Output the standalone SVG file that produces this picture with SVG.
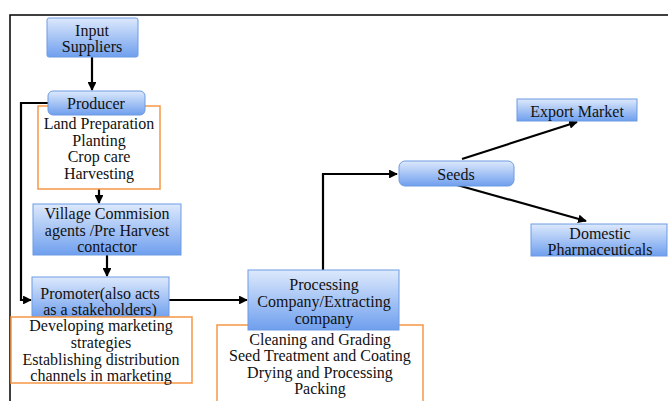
<svg xmlns="http://www.w3.org/2000/svg" width="668" height="401" viewBox="0 0 668 401">
<style>
.t{font-family:"Liberation Serif","Times New Roman",serif;font-size:16px;fill:#111;text-anchor:middle}
.b{fill:url(#g);stroke:#6d9be3;stroke-width:1}
.o{fill:#fff;stroke:#f79646;stroke-width:1.5}
.c{fill:none;stroke:#000;stroke-width:2.2}
</style>
<defs>
<linearGradient id="g" x1="0" y1="0" x2="0" y2="1">
<stop offset="0" stop-color="#dde9fc"/>
<stop offset="1" stop-color="#6f9fee"/>
</linearGradient>
<marker id="a" viewBox="0 0 10 10" refX="9" refY="5" markerWidth="4" markerHeight="4" orient="auto" markerUnits="strokeWidth">
<path d="M0,0 L10,5 L0,10 z" fill="#000"/>
</marker>
</defs>
<path d="M10,401 V15 H668" fill="none" stroke="#000" stroke-width="1.5"/>
<g id="connectors">
<path class="c" d="M92,57 V90" marker-end="url(#a)"/>
<path class="c" d="M48,103 H21 V300 H31" marker-end="url(#a)"/>
<path class="c" d="M99,189 V203" marker-end="url(#a)"/>
<path class="c" d="M107,255 V276" marker-end="url(#a)"/>
<path class="c" d="M169,300 H247" marker-end="url(#a)"/>
<path class="c" d="M323,270 V174 H397" marker-end="url(#a)"/>
<path class="c" d="M462,159 L577,122" marker-end="url(#a)"/>
<path class="c" d="M457,185 L586,221" marker-end="url(#a)"/>
</g>
<g id="input-suppliers">
<rect class="b" x="47" y="18" width="91" height="39" rx="2"/>
<text class="t" x="92" y="36">Input</text>
<text class="t" x="92" y="52">Suppliers</text>
</g>
<g id="producer-tasks">
<rect class="o" x="38" y="106" width="122" height="83"/>
<text class="t" x="99" y="129">Land Preparation</text>
<text class="t" x="99" y="145.5">Planting</text>
<text class="t" x="99" y="162">Crop care</text>
<text class="t" x="99" y="178.5">Harvesting</text>
</g>
<g id="producer">
<rect class="b" x="48" y="91" width="97" height="24" rx="5"/>
<text class="t" x="96" y="109">Producer</text>
</g>
<g id="village">
<rect class="b" x="33" y="204" width="148" height="51"/>
<text class="t" x="107" y="218.5">Village Commision</text>
<text class="t" x="107" y="235.5">agents /Pre Harvest</text>
<text class="t" x="107" y="252">contactor</text>
</g>
<g id="promoter">
<rect class="b" x="32" y="277" width="137" height="41"/>
<text class="t" x="100" y="298.5">Promoter(also acts</text>
<text class="t" x="100" y="315">as a stakeholders)</text>
</g>
<g id="promoter-tasks">
<rect class="o" x="11" y="317" width="181" height="66"/>
<text class="t" x="101" y="331">Developing marketing</text>
<text class="t" x="101" y="348">strategies</text>
<text class="t" x="101" y="364.5">Establishing distribution</text>
<text class="t" x="101" y="380.5">channels in marketing</text>
</g>
<g id="processing-tasks">
<rect class="o" x="217" y="325" width="206" height="90"/>
<text class="t" x="320" y="344.5">Cleaning and Grading</text>
<text class="t" x="320" y="361">Seed Treatment and Coating</text>
<text class="t" x="320" y="377.5">Drying and Processing</text>
<text class="t" x="320" y="394">Packing</text>
</g>
<g id="processing">
<rect class="b" x="248" y="270" width="151" height="60"/>
<text class="t" x="324" y="289.5">Processing</text>
<text class="t" x="324" y="307">Company/Extracting</text>
<text class="t" x="324" y="323.5">company</text>
</g>
<g id="seeds">
<rect class="b" x="399" y="161" width="115" height="25" rx="6"/>
<text class="t" x="456" y="179.5">Seeds</text>
</g>
<g id="export-market">
<rect class="b" x="517" y="99" width="120" height="22"/>
<text class="t" x="577" y="116.5">Export Market</text>
</g>
<g id="domestic">
<rect class="b" x="531" y="224" width="136" height="32"/>
<text class="t" x="600" y="238.5">Domestic</text>
<text class="t" x="600" y="254.5">Pharmaceuticals</text>
</g>
</svg>
